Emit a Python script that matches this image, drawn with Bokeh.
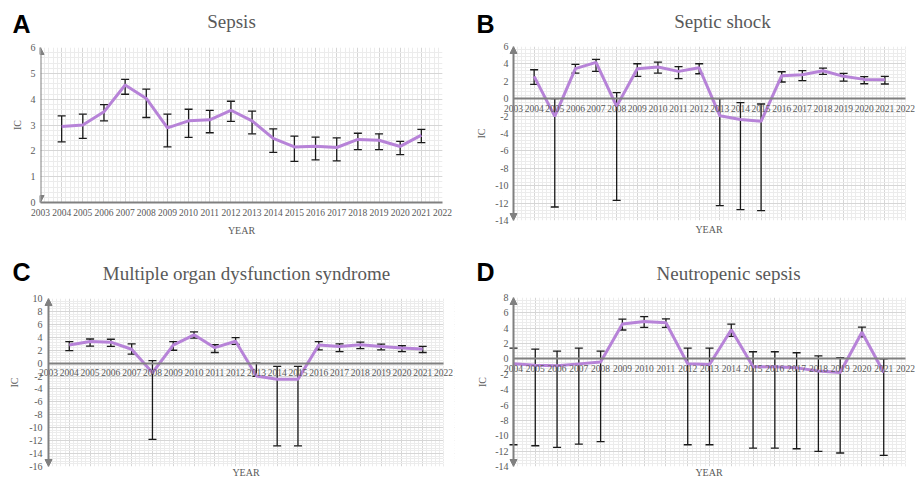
from bokeh.plotting import figure
from bokeh.layouts import column, row
from bokeh.models import (ColumnDataSource, Whisker, TeeHead, Arrow, NormalHead,
                          FixedTicker, Range1d, LinearAxis, BoxAnnotation)
from bokeh.core.properties import value
from bokeh.embed import file_html
from bokeh.resources import INLINE

# ---------------- data ----------------
years = [2004, 2005, 2006, 2007, 2008, 2009, 2010, 2011, 2012,
         2013, 2014, 2015, 2016, 2017, 2018, 2019, 2020, 2021]

sepsis_ic = [2.94, 3.00, 3.51, 4.55, 4.03, 2.89, 3.16, 3.20, 3.57,
             3.16, 2.48, 2.15, 2.18, 2.13, 2.44, 2.41, 2.17, 2.61]
sepsis_upper = [3.35, 3.42, 3.79, 4.77, 4.39, 3.42, 3.61, 3.57, 3.92,
                3.54, 2.85, 2.57, 2.53, 2.50, 2.68, 2.66, 2.37, 2.83]
sepsis_lower = [2.35, 2.48, 3.16, 4.19, 3.29, 2.15, 2.52, 2.70, 3.14,
                2.66, 1.94, 1.59, 1.65, 1.61, 2.05, 2.05, 1.85, 2.32]

shock_ic = [2.57, -2.03, 3.45, 4.18, -0.88, 3.45, 3.64, 3.14, 3.56,
            -1.95, -2.38, -2.60, 2.64, 2.76, 3.22, 2.57, 2.22, 2.18]
shock_upper = [3.33, 0.00, 3.95, 4.52, 0.69, 4.02, 4.21, 3.68, 4.02,
               0.00, -0.46, -0.61, 3.10, 3.22, 3.52, 2.91, 2.53, 2.57]
shock_lower = [1.65, -12.45, 2.95, 3.14, -11.69, 2.57, 2.95, 2.30, 2.87,
               -12.30, -12.76, -12.87, 1.92, 2.07, 2.80, 2.03, 1.72, 1.69]

mods_ic = [2.79, 3.34, 3.24, 2.14, -1.49, 2.79, 4.38, 2.39, 3.39,
           -1.99, -2.49, -2.49, 2.79, 2.59, 2.84, 2.59, 2.34, 2.19]
mods_upper = [3.34, 3.73, 3.69, 2.99, 0.40, 3.34, 4.83, 2.84, 3.93,
              0.00, -0.50, -0.50, 3.34, 2.99, 3.24, 2.94, 2.69, 2.59]
mods_lower = [1.94, 2.64, 2.59, 1.39, -11.80, 1.99, 3.88, 1.64, 2.89,
              -2.05, -12.80, -12.80, 2.04, 1.79, 2.24, 2.04, 1.79, 1.64]

neutro_ic = [-0.64, -0.81, -0.90, -0.64, -0.39, 4.54, 4.88, 4.71, -0.64,
             -0.73, 3.81, -1.03, -1.03, -1.16, -1.58, -1.76, 3.47, -1.76]
neutro_upper = [1.41, 1.28, 1.03, 1.41, 1.03, 5.18, 5.52, 5.22, 1.41,
                1.41, 4.54, 0.94, 0.94, 0.81, 0.39, 0.17, 4.15, 0.00]
neutro_lower = [-11.17, -11.30, -11.50, -11.10, -10.75, 3.77, 4.11, 4.11, -11.17,
                -11.17, 2.95, -11.60, -11.60, -11.69, -12.03, -12.24, 2.87, -12.54]

tick_years_abc = list(range(2003, 2023))
tick_years_d = list(range(2004, 2023))

panel_letters = ["A", "B", "C", "D"]
panel_titles = ["Sepsis", "Septic shock", "Multiple organ dysfunction syndrome",
                "Neutropenic sepsis"]

# ---------------- style ----------------
SERIF = "Liberation Serif"
GREY_TXT = "#595959"
AXIS_GREY = "#808080"
LINE_COL = "#b783d8"
ERR_COL = "#1a1a1a"


def header(letter, title, width, height, letter_xy, title_xy):
    h = figure(width=width, height=height, x_range=Range1d(0, width),
               y_range=Range1d(height, 0), output_backend="svg",
               toolbar_location=None, x_axis_location=None, y_axis_location=None,
               min_border=0, outline_line_color=None, frame_align=False)
    h.grid.visible = False
    h.text(x=[letter_xy[0]], y=[letter_xy[1]], text=[letter],
           text_font=value("Liberation Sans"), text_font_style="bold",
           text_font_size=value("25px"), text_color="black",
           text_align="center", text_baseline="middle")
    h.text(x=[title_xy[0]], y=[title_xy[1]], text=[title],
           text_font=value(SERIF), text_font_size=value("19px"),
           text_color=GREY_TXT, text_align="center", text_baseline="middle")
    return h


def style_text_axis(ax, size):
    ax.major_label_text_font = SERIF
    ax.major_label_text_font_size = size
    ax.major_label_text_color = GREY_TXT
    ax.axis_label_text_font = SERIF
    ax.axis_label_text_font_size = "10px"
    ax.axis_label_text_font_style = "normal"
    ax.axis_label_text_color = GREY_TXT
    ax.major_tick_line_color = None
    ax.minor_tick_line_color = None
    ax.major_tick_out = 0
    ax.minor_tick_out = 0


def panel(vals, upper, lower, xticks, yticks, ystep, width, height, borders,
          inner_w, ext_l, ext_r, zero_axis, ylab_standoff, ystand, year_standoff):
    x0, x1 = xticks[0], xticks[-1]
    y0, y1 = yticks[0], yticks[-1]
    u = (x1 - x0) / inner_w
    xs, xe = x0 - ext_l * u, x1 + ext_r * u
    left, right, top, bottom = borders
    p = figure(width=width, height=height,
               x_range=Range1d(xs, xe), y_range=Range1d(y0, y1),
               output_backend="svg", toolbar_location=None, frame_align=False,
               min_border_left=left, min_border_right=right,
               min_border_top=top, min_border_bottom=bottom)
    p.outline_line_color = None
    p.background_fill_color = "white"
    p.border_fill_color = "white"

    xminor = [x + k / 5 for x in xticks[:-1] for k in range(1, 5)]
    ms = ystep / 5
    n = int(round((y1 - y0) / ms))
    yminor = [y0 + i * ms for i in range(n + 1)]

    p.xgrid.ticker = FixedTicker(ticks=xticks, minor_ticks=xminor)
    p.ygrid.ticker = FixedTicker(ticks=yticks, minor_ticks=yminor)
    for g in (p.xgrid, p.ygrid):
        g.grid_line_color = "#d6d6d6"
        g.grid_line_width = 1
        g.minor_grid_line_color = "#ececec"
        g.minor_grid_line_width = 1

    for a, b in ((xs, x0), (x1, xe)):
        if b > a:
            p.add_layout(BoxAnnotation(left=a, right=b, fill_color="white", fill_alpha=1,
                                       line_color=None, level="underlay"))

    xax = p.xaxis[0]
    xax.ticker = FixedTicker(ticks=xticks)
    xax.axis_line_color = AXIS_GREY
    xax.axis_line_width = 2
    xax.bounds = (x0, x1)
    xax.major_label_standoff = 6
    style_text_axis(xax, "9.5px")
    if zero_axis:
        xax.fixed_location = 0
        yr = LinearAxis(ticker=FixedTicker(ticks=[]), axis_label="YEAR",
                        axis_line_color=None, major_label_standoff=0,
                        axis_label_standoff=year_standoff)
        style_text_axis(yr, "9.5px")
        p.add_layout(yr, "below")
    else:
        xax.axis_label = "YEAR"
        xax.axis_label_standoff = year_standoff

    yax = p.yaxis[0]
    yax.ticker = FixedTicker(ticks=yticks)
    yax.major_label_overrides = {t: str(t) for t in yticks}
    yax.axis_line_color = None
    yax.major_label_standoff = ystand
    yax.axis_label = "IC"
    yax.axis_label_standoff = ylab_standoff
    style_text_axis(yax, "10px")

    p.add_layout(Arrow(x_start=x0, y_start=y0, x_end=x0, y_end=y1,
                       line_color=AXIS_GREY, line_width=2,
                       start=NormalHead(size=7, line_color=AXIS_GREY, fill_color=AXIS_GREY),
                       end=NormalHead(size=7, line_color=AXIS_GREY, fill_color=AXIS_GREY)))

    src = ColumnDataSource(dict(x=years, y=vals, upper=upper, lower=lower))
    p.line("x", "y", source=src, line_color=LINE_COL, line_width=3)
    p.add_layout(Whisker(source=src, base="x", upper="upper", lower="lower",
                         dimension="height", line_color=ERR_COL, line_width=1.3,
                         upper_head=TeeHead(size=8, line_color=ERR_COL, line_width=1.3),
                         lower_head=TeeHead(size=8, line_color=ERR_COL, line_width=1.3)))
    return p


W1, W2 = 460, 455
H1, P1 = 40, 200
H2, P2 = 50, 190

hA = header(panel_letters[0], panel_titles[0], W1, H1, (21, 23), (231, 21))
hB = header(panel_letters[1], panel_titles[1], W2, H1, (25, 23), (262, 21))
hC = header(panel_letters[2], panel_titles[2], W1, H2, (21, 31), (246, 33))
hD = header(panel_letters[3], panel_titles[3], W2, H2, (25, 31), (268, 33))

pA = panel(sepsis_ic, sepsis_upper, sepsis_lower, tick_years_abc,
           [0, 1, 2, 3, 4, 5, 6], 1, W1, P1, (40, 18, 7, 38),
           402, 0, 0, False, 5, 5, 6)
pB = panel(shock_ic, shock_upper, shock_lower, tick_years_abc,
           list(range(-14, 7, 2)), 2, W2, P1, (42, 0, 6, 20),
           392, 11, 10, True, 5, -6, 3)
pC = panel(mods_ic, mods_upper, mods_lower, tick_years_abc,
           list(range(-16, 11, 2)), 2, W1, P2, (37, 6, 8, 12),
           395, 11, 11, True, 6, -5, 0)
pD = panel(neutro_ic, neutro_upper, neutro_lower, tick_years_d,
           list(range(-14, 9, 2)), 2, W2, P2, (42, 0, 7, 12),
           392, 11, 10, True, 4, -6, 0)

layout = column(row(column(hA, pA), column(hB, pB)),
                row(column(hC, pC), column(hD, pD)))

with open("out.html", "w") as f:
    f.write(file_html(layout, INLINE))
